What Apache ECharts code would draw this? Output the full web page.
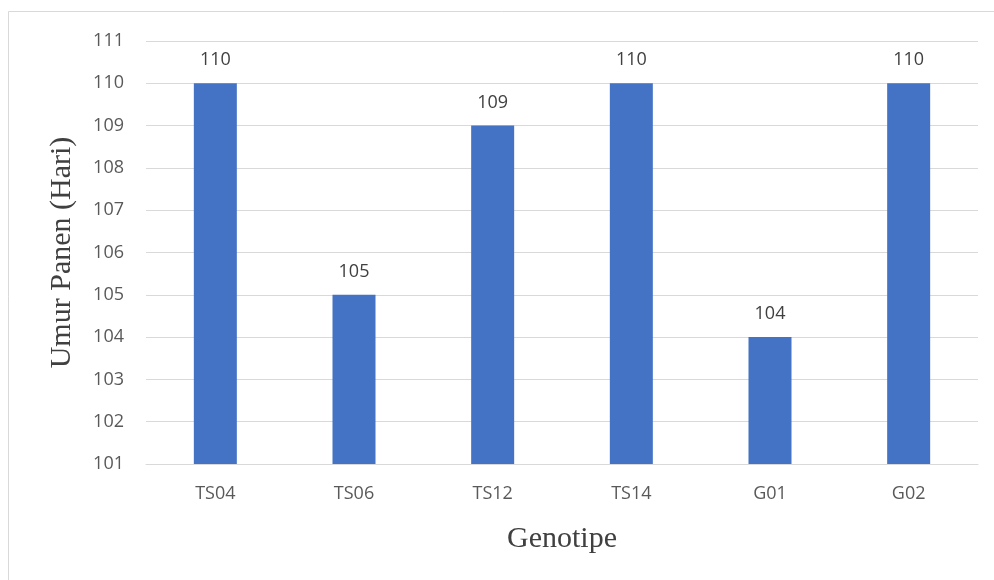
<!DOCTYPE html>
<html>
<head>
<meta charset="utf-8">
<script src="https://cdn.jsdelivr.net/npm/echarts@6/dist/echarts.min.js"></script>
<style>
  html, body { margin: 0; padding: 0; background: #fff; }
  #chart { width: 994px; height: 580px; }
</style>
</head>
<body>
<div id="chart"></div>
<script>
// Chart data
const genotypes = ['TS04', 'TS06', 'TS12', 'TS14', 'G01', 'G02'];
const harvestDays = [110, 105, 109, 110, 104, 110];

const chart = echarts.init(document.getElementById('chart'));

const option = {
    backgroundColor: '#fff',
    animation: false,
    graphic: [{
        type: 'rect',
        shape: { x: 8.5, y: 11.5, width: 1000, height: 600 },
        style: { fill: 'none', stroke: '#d9d9d9', lineWidth: 1 },
        silent: true
    }],
    grid: { left: 146, right: 16, top: 41, bottom: 116 },
    xAxis: {
        type: 'category',
        data: genotypes,
        name: 'Genotipe',
        nameLocation: 'middle',
        nameGap: 60,
        nameTextStyle: { fontFamily: 'Liberation Serif', fontSize: 30, color: '#404040' },
        axisLine: { lineStyle: { color: '#d9d9d9' } },
        axisTick: { show: false },
        axisLabel: { fontFamily: 'Open Sans', fontSize: 18, color: '#595959', margin: 21 }
    },
    yAxis: {
        type: 'value',
        min: 101,
        max: 111,
        interval: 1,
        name: 'Umur Panen (Hari)',
        nameLocation: 'middle',
        nameGap: 69,
        nameTextStyle: { fontFamily: 'Liberation Serif', fontSize: 30, color: '#404040' },
        axisLine: { show: false },
        axisTick: { show: false },
        axisLabel: { fontFamily: 'Open Sans', fontSize: 18, color: '#595959', margin: 22 },
        splitLine: { lineStyle: { color: '#d9d9d9', width: 1 } }
    },
    series: [{
        type: 'bar',
        data: harvestDays,
        barWidth: 43,
        itemStyle: { color: '#4472c4' },
        label: {
            show: true,
            position: 'top',
            distance: 14,
            fontFamily: 'Open Sans',
            fontSize: 18,
            color: '#404040'
        }
    }]
};

chart.setOption(option);
</script>
</body>
</html>
